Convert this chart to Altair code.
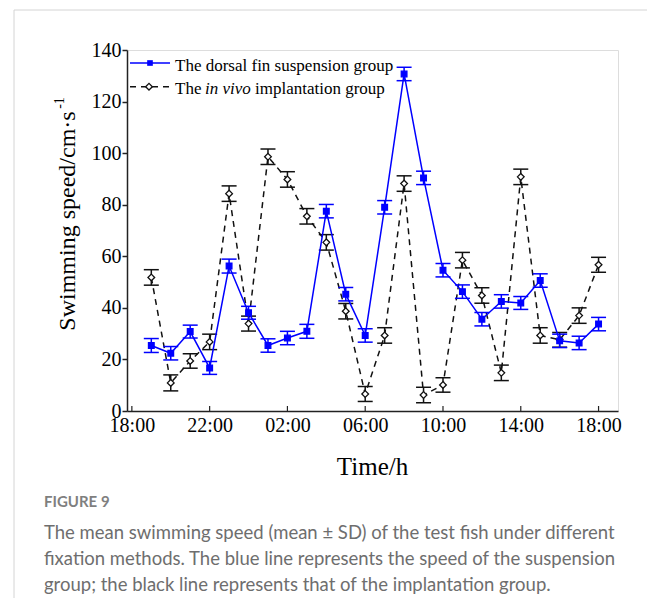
import altair as alt
import pandas as pd

# ---------------- data ----------------
times = ["19:00", "20:00", "21:00", "22:00", "23:00", "00:00", "01:00", "02:00",
         "03:00", "04:00", "05:00", "06:00", "07:00", "08:00", "09:00", "10:00",
         "11:00", "12:00", "13:00", "14:00", "15:00", "16:00", "17:00", "18:00"]
suspension_mean = [25.4, 22.4, 30.8, 16.7, 56.2, 38.1, 25.4, 28.3, 30.9, 77.5, 45.3, 29.3,
                   79.0, 130.7, 90.4, 54.6, 46.3, 35.6, 42.5, 41.9, 50.6, 27.2, 26.4, 33.7]
suspension_sd = [2.7, 2.6, 2.5, 2.5, 2.7, 2.5, 2.6, 2.6, 2.7, 2.6, 2.6, 2.6,
                 2.6, 2.6, 2.6, 2.6, 2.6, 2.6, 2.6, 2.5, 2.6, 2.6, 2.6, 2.6]
implant_mean = [51.8, 10.9, 19.4, 26.8, 84.3, 33.9, 98.6, 89.8, 75.5, 65.4, 38.7, 6.6,
                29.3, 88.2, 6.2, 10.1, 58.5, 44.8, 14.8, 90.8, 29.3, 27.6, 37.0, 56.7]
implant_sd = [3.0, 3.1, 2.8, 3.0, 3.0, 2.9, 3.0, 3.0, 3.0, 3.0, 3.0, 2.9,
              3.0, 3.0, 3.0, 2.8, 3.0, 3.0, 3.0, 3.0, 3.0, 2.85, 3.0, 2.9]
tick_values = [0, 4, 8, 12, 16, 20, 24]
tick_labels = ["18:00", "22:00", "02:00", "06:00", "10:00", "14:00", "18:00"]
y_ticks = [0, 20, 40, 60, 80, 100, 120, 140]

caption_title = "FIGURE 9"
caption_lines = [
    "The mean swimming speed (mean \u00b1 SD) of the test fish under different",
    "fixation methods. The blue line represents the speed of the suspension",
    "group; the black line represents that of the implantation group.",
]

BLUE = "#0000ff"
BLACK = "#111111"
FRAME = "#222222"
SERIF = "Liberation Serif"
SANS = "Lato"

hours = list(range(1, len(times) + 1))


def frame(means, sds):
    d = pd.DataFrame({"h": hours, "time": times, "mean": means, "sd": sds})
    d["lo"] = d["mean"] - d["sd"]
    d["hi"] = d["mean"] + d["sd"]
    return d


df_s = frame(suspension_mean, suspension_sd)
df_i = frame(implant_mean, implant_sd)
df_ticks = pd.DataFrame({"h": tick_values})
one = pd.DataFrame({"a": [0]})

label_expr = ("[" + ",".join(f"'{l}'" for l in tick_labels) + "][indexof(["
              + ",".join(str(v) for v in tick_values) + "], datum.value)]")

xscale = alt.Scale(domain=[-0.25, 25], nice=False, zero=False)
yscale = alt.Scale(domain=[0, 140], nice=False)

x_axis = alt.Axis(values=tick_values, labelExpr=label_expr, title=None, ticks=False,
                  grid=False, labelFont=SERIF, labelFontSize=20, labelColor="black",
                  labelPadding=4, domainColor=FRAME, domainWidth=1.5, labelFlush=False)
y_axis = alt.Axis(values=y_ticks, title=None, grid=False, tickSize=5, tickColor=FRAME,
                  tickWidth=1.5, labelPadding=1, labelFont=SERIF, labelFontSize=20,
                  labelColor="black", domainColor=FRAME, domainWidth=1.5, labelFlush=False)


def X(field="h:Q"):
    return alt.X(field, scale=xscale, axis=x_axis)


def Y(field):
    return alt.Y(field, scale=yscale, axis=y_axis)


def series(df, color, dash, shape, size, fill):
    line_kw = dict(color=color, strokeWidth=1.5)
    if dash:
        line_kw["strokeDash"] = dash
    line = alt.Chart(df).mark_line(**line_kw).encode(x=X(), y=Y("mean:Q"))
    err = alt.Chart(df).mark_rule(color=color, strokeWidth=1.5).encode(
        x=X(), y=Y("lo:Q"), y2="hi:Q")
    cap_lo = alt.Chart(df).mark_tick(orient="horizontal", size=15, thickness=1.5,
                                     color=color, opacity=1).encode(x=X(), y=Y("lo:Q"))
    cap_hi = alt.Chart(df).mark_tick(orient="horizontal", size=15, thickness=1.5,
                                     color=color, opacity=1).encode(x=X(), y=Y("hi:Q"))
    pts = alt.Chart(df).mark_point(shape=shape, filled=True, fill=fill, stroke=color,
                                   strokeWidth=1.3, size=size, opacity=1).encode(
        x=X(), y=Y("mean:Q"), tooltip=["time:N", "mean:Q", "sd:Q"])
    return [line, err, cap_lo, cap_hi, pts]


layers = []
layers += series(df_i, BLACK, [6, 5], "diamond", 45, "white")
layers += series(df_s, BLUE, None, "square", 32, BLUE)

# inward x ticks
xticks = alt.Chart(df_ticks).mark_rule(color=FRAME, strokeWidth=1.2).encode(
    x=X(), y=alt.value(361), y2=alt.value(356))
layers.append(xticks)

# legend
leg = alt.Chart(one)
layers += [
    leg.mark_rule(color=BLUE, strokeWidth=1.5).encode(
        x=alt.value(3), x2=alt.value(43), y=alt.value(13)),
    leg.mark_point(shape="square", filled=True, color=BLUE, size=32, opacity=1).encode(
        x=alt.value(23), y=alt.value(13)),
    leg.mark_text(align="left", baseline="alphabetic", font=SERIF, fontSize=17,
                  color="black").encode(x=alt.value(48), y=alt.value(20.7),
                                        text=alt.value("The dorsal fin suspension group")),
    leg.mark_rule(color=BLACK, strokeWidth=1.5, strokeDash=[6, 5]).encode(
        x=alt.value(3), x2=alt.value(43), y=alt.value(36.7)),
    leg.mark_point(shape="diamond", filled=True, fill="white", stroke=BLACK,
                   strokeWidth=1.3, size=45, opacity=1).encode(
        x=alt.value(22), y=alt.value(36.7)),
    leg.mark_text(align="left", baseline="alphabetic", font=SERIF, fontSize=17,
                  color="black").encode(x=alt.value(48), y=alt.value(44),
                                        text=alt.value("The")),
    leg.mark_text(align="left", baseline="alphabetic", font=SERIF, fontSize=17,
                  fontStyle="italic", color="black").encode(
        x=alt.value(78), y=alt.value(44), text=alt.value("in vivo")),
    leg.mark_text(align="left", baseline="alphabetic", font=SERIF, fontSize=17,
                  color="black").encode(x=alt.value(128), y=alt.value(44),
                                        text=alt.value("implantation group")),
]

# axis titles
layers += [
    leg.mark_text(align="center", baseline="alphabetic", angle=270, font=SERIF,
                  fontSize=24, color="black").encode(
        x=alt.value(-52), y=alt.value(171), text=alt.value("Swimming speed/cm\u00b7s")),
    leg.mark_text(align="center", baseline="alphabetic", angle=270, font=SERIF,
                  fontSize=14, color="black").encode(
        x=alt.value(-63), y=alt.value(53), text=alt.value("-1")),
    leg.mark_text(align="center", baseline="middle", font=SERIF, fontSize=25,
                  color="black").encode(
        x=alt.value(245.5), y=alt.value(417), text=alt.value("Time/h")),
]

# page border and caption
layers += [
    leg.mark_rule(color="#d4d4d4", strokeWidth=1).encode(
        x=alt.value(-113), y=alt.value(-40), y2=alt.value(560)),
    leg.mark_rule(color="#d4d4d4", strokeWidth=1).encode(
        x=alt.value(-113), x2=alt.value(540), y=alt.value(-40)),
    leg.mark_text(align="left", baseline="alphabetic", font=SANS, fontSize=15,
                  fontWeight="bold", color="#7f7f7f").encode(
        x=alt.value(-83), y=alt.value(457), text=alt.value(caption_title)),
]
for i, line in enumerate(caption_lines):
    layers.append(leg.mark_text(align="left", baseline="alphabetic", font=SANS,
                                fontSize=18.5, color="#6e6e6e").encode(
        x=alt.value(-83), y=alt.value(489 + 26 * i), text=alt.value(line)))

chart = alt.layer(*layers).properties(
    width=491, height=361,
    padding={"left": 119, "top": 42, "right": 29, "bottom": 187},
    autosize=alt.AutoSizeParams(type="none"),
).configure_view(stroke=FRAME, strokeWidth=1.5).configure(background="white")

chart.save("out.html", embed_options={"renderer": "svg", "actions": False})
